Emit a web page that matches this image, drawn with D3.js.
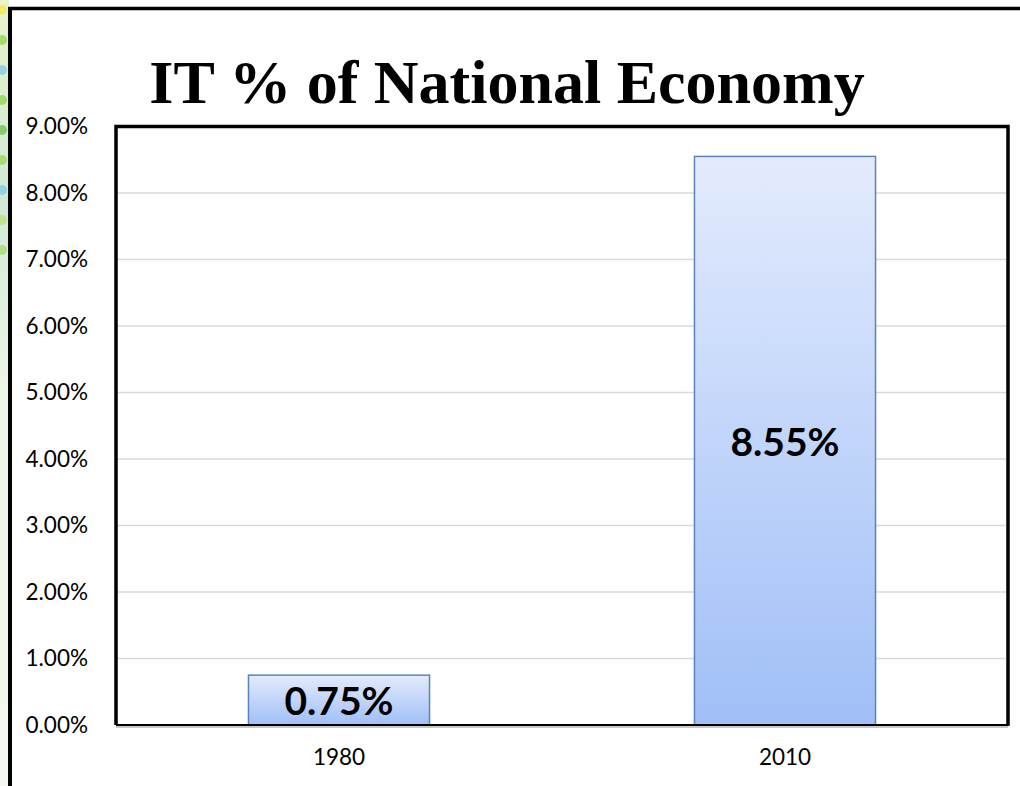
<!DOCTYPE html>
<html>
<head>
<meta charset="utf-8">
<script src="https://cdn.jsdelivr.net/npm/d3@7"></script>
<style>
  body { margin: 0; background: #fff; }
  svg { display: block; }
</style>
</head>
<body>
<svg id="chart" width="1020" height="786"></svg>
<script>
// data
const years = ["1980", "2010"];
const shares = [0.0075, 0.0855];
const tickValues = [0, 0.01, 0.02, 0.03, 0.04, 0.05, 0.06, 0.07, 0.08, 0.09];
const titleText = "IT % of National Economy";

const svg = d3.select("#chart");
const width = +svg.attr("width");
const height = +svg.attr("height");

// plot area box (slide chart frame)
const plot = { left: 116, top: 126.5, right: 1008, bottom: 725 };

const defs = svg.append("defs");
const grad = defs.append("linearGradient")
  .attr("id", "barGrad")
  .attr("x1", 0).attr("y1", 0).attr("x2", 0).attr("y2", 1);
grad.append("stop").attr("offset", "0%").attr("stop-color", "#e3ebfd");
grad.append("stop").attr("offset", "100%").attr("stop-color", "#a0bff7");

const strip = defs.append("linearGradient")
  .attr("id", "stripGrad")
  .attr("x1", 0).attr("y1", 0).attr("x2", 0).attr("y2", 1);
strip.append("stop").attr("offset", "0%").attr("stop-color", "#e8f3c8");
strip.append("stop").attr("offset", "25%").attr("stop-color", "#cfe9d6");
strip.append("stop").attr("offset", "50%").attr("stop-color", "#eef6e4");
strip.append("stop").attr("offset", "100%").attr("stop-color", "#f4f8ef");

svg.append("rect").attr("width", width).attr("height", height).attr("fill", "#fff");

// left decorative slide edge
svg.append("rect")
  .attr("x", 0).attr("y", 0).attr("width", 9).attr("height", height)
  .attr("fill", "url(#stripGrad)");
const dotColors = ["#f2e94e", "#8fd14f", "#7fc8ea", "#8fd14f", "#6cc24a", "#9ad65a", "#7fc8ea", "#b8e07a", "#a6d86e"];
svg.append("g").selectAll("circle")
  .data(dotColors)
  .join("circle")
  .attr("cx", 2)
  .attr("cy", (d, i) => 10 + i * 30)
  .attr("r", 5)
  .attr("fill", d => d)
  .attr("opacity", 0.75);

// outer slide frame
svg.append("line")
  .attr("x1", 10).attr("x2", 10).attr("y1", 7).attr("y2", height)
  .attr("stroke", "#000").attr("stroke-width", 4);
svg.append("line")
  .attr("x1", 8).attr("x2", width).attr("y1", 8.5).attr("y2", 8.5)
  .attr("stroke", "#000").attr("stroke-width", 3.5);

// scales
const x = d3.scaleBand()
  .domain(years)
  .range([plot.left, plot.right])
  .padding(0);
const barW = x.bandwidth() * 0.406;

const y = d3.scaleLinear()
  .domain([0, 0.09])
  .range([plot.bottom, plot.top]);

// gridlines
svg.append("g")
  .selectAll("line")
  .data(tickValues.slice(1, -1))
  .join("line")
  .attr("x1", plot.left).attr("x2", plot.right)
  .attr("y1", d => y(d)).attr("y2", d => y(d))
  .attr("stroke", "#d9d9d9").attr("stroke-width", 1.5);

// y axis labels
const yAxis = svg.append("g")
  .attr("transform", `translate(${plot.left},0)`)
  .call(d3.axisLeft(y).tickValues(tickValues).tickFormat(d3.format(".2%")).tickSize(0).tickPadding(28));
yAxis.select(".domain").remove();
yAxis.selectAll("text")
  .attr("font-family", "Lato, 'Open Sans', sans-serif")
  .attr("font-size", "22.5px")
  .attr("fill", "#000");

// x axis labels
const xAxis = svg.append("g")
  .attr("transform", `translate(0,${plot.bottom})`)
  .call(d3.axisBottom(x).tickSize(0).tickPadding(24));
xAxis.select(".domain").remove();
xAxis.selectAll("text")
  .attr("font-family", "Lato, 'Open Sans', sans-serif")
  .attr("font-size", "22.5px")
  .attr("fill", "#000");

// bars
const bars = svg.append("g")
  .selectAll("g")
  .data(years.map((yr, i) => ({ year: yr, value: shares[i] })))
  .join("g");

bars.append("rect")
  .attr("x", d => x(d.year) + x.bandwidth() / 2 - barW / 2)
  .attr("y", d => y(d.value))
  .attr("width", barW)
  .attr("height", d => y(0) - y(d.value))
  .attr("fill", "url(#barGrad)")
  .attr("stroke", "#5a82bd")
  .attr("stroke-width", 1.5);

bars.append("text")
  .attr("x", d => x(d.year) + x.bandwidth() / 2)
  .attr("y", d => (y(d.value) + y(0)) / 2)
  .attr("dy", "0.38em")
  .attr("text-anchor", "middle")
  .attr("font-family", "Lato, 'Open Sans', sans-serif")
  .attr("font-weight", "bold")
  .attr("font-size", "39px")
  .attr("fill", "#000")
  .text(d => d3.format(".2%")(d.value));

// plot frame: left, top, right
svg.append("path")
  .attr("d", `M${plot.left},${plot.bottom}V${plot.top}H${plot.right}V${plot.bottom}`)
  .attr("fill", "none")
  .attr("stroke", "#000")
  .attr("stroke-width", 3.5);

// baseline with soft shadow
svg.append("line")
  .attr("x1", plot.left).attr("x2", plot.right)
  .attr("y1", plot.bottom + 2).attr("y2", plot.bottom + 2)
  .attr("stroke", "#c8c8c8").attr("stroke-width", 2);
svg.append("line")
  .attr("x1", plot.left).attr("x2", plot.right + 1.5)
  .attr("y1", plot.bottom).attr("y2", plot.bottom)
  .attr("stroke", "#000").attr("stroke-width", 2);

// title
svg.append("text")
  .attr("x", 507)
  .attr("y", 103)
  .attr("text-anchor", "middle")
  .attr("font-family", "'Liberation Serif', 'Times New Roman', serif")
  .attr("font-weight", "bold")
  .attr("font-size", "62px")
  .attr("fill", "#000")
  .text(titleText);
</script>
</body>
</html>
